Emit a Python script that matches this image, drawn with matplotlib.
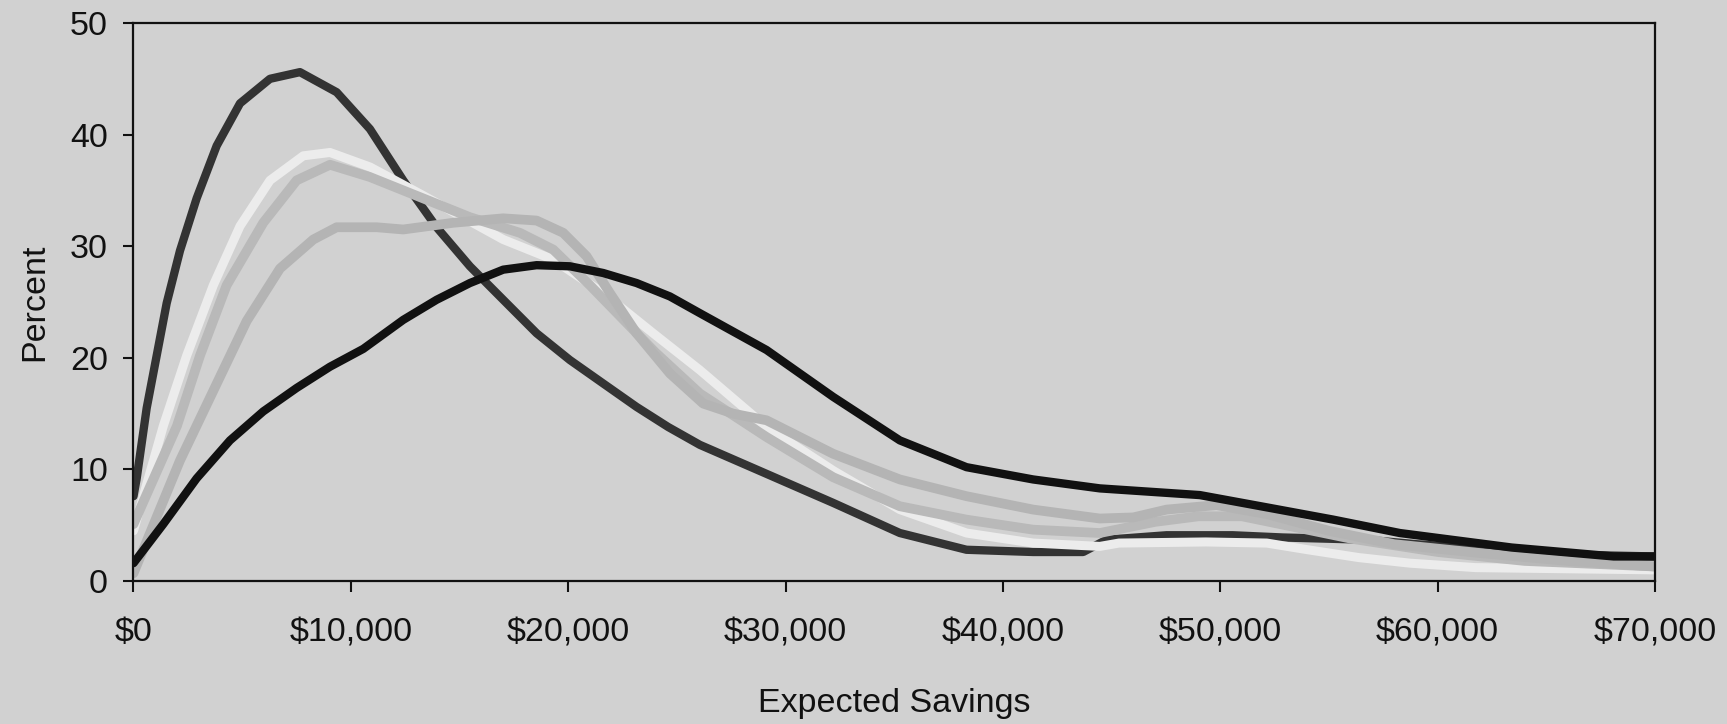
import matplotlib.pyplot as plt
from matplotlib.ticker import FuncFormatter

plt.rcParams['font.family'] = ['Liberation Sans', 'DejaVu Sans']

# (savings $, percent)
dark_x = [0, 147, 607, 1067, 1527, 2139, 2907, 3827, 4900, 6279, 7659, 9347, 10879, 12410,
          13946, 15478, 17010, 18546, 20078, 21610, 23146, 24600, 26058, 29126, 32190, 35258,
          38325, 41390, 43690, 44770, 47530, 50570, 52870, 56740, 59000, 62000, 65000, 70000]
dark_y = [7.6, 9.2, 15.5, 20.2, 24.9, 29.6, 34.3, 39.0, 42.8, 45.0, 45.6, 43.8, 40.5, 35.9,
          31.7, 28.2, 25.2, 22.2, 19.8, 17.7, 15.6, 13.8, 12.2, 9.6, 7.0, 4.3,
          2.8, 2.6, 2.6, 3.7, 4.1, 4.1, 3.9, 3.7, 3.3, 2.9, 2.4, 2.2]

white_x = [0, 1372, 2447, 3672, 4900, 6279, 7812, 9039, 10879, 13180, 17010, 19310, 21610,
           23910, 26058, 29126, 32190, 35258, 38325, 41390, 44458, 45340, 49340, 52140, 54030,
           56370, 58720, 61750, 70000]
white_y = [4.5, 13.9, 20.2, 26.5, 31.8, 35.9, 38.1, 38.4, 37.1, 34.7, 30.6, 28.8, 25.8,
           22.2, 18.9, 13.8, 9.9, 6.4, 4.3, 3.4, 3.1, 3.4, 3.5, 3.4, 2.8,
           2.1, 1.6, 1.2, 1.0]

grayd_x = [0, 2000, 3060, 4285, 5970, 7506, 9039, 10879, 13180, 15478, 17777, 19310, 21000,
           22500, 24000, 26058, 29126, 32190, 35258, 38325, 41390, 44458, 47000, 49000, 51000,
           53000, 56000, 60000, 64000, 70000]
grayd_y = [5.1, 13.9, 20.2, 26.5, 32.1, 35.9, 37.3, 36.2, 34.4, 32.6, 31.2, 29.7, 26.5,
           23.5, 20.5, 16.8, 12.9, 9.3, 6.7, 5.5, 4.6, 4.3, 5.3, 5.8, 5.8,
           5.0, 3.8, 2.6, 1.8, 1.3]

graye_x = [0, 2139, 3660, 5207, 6739, 8272, 9347, 11186, 12410, 14710, 17010, 18546, 19770,
           20846, 21918, 23146, 24678, 26210, 27590, 29126, 32190, 35258, 38325, 41390, 44458,
           46000, 47530, 49830, 52140, 55000, 58000, 62000, 66000, 70000]
graye_y = [0.7, 10.8, 17.0, 23.3, 28.0, 30.6, 31.7, 31.7, 31.5, 32.1, 32.5, 32.3, 31.2,
           29.1, 25.8, 22.2, 18.6, 15.9, 15.0, 14.4, 11.4, 9.1, 7.6, 6.4, 5.6,
           5.7, 6.4, 6.8, 6.0, 4.5, 3.3, 2.5, 1.8, 1.3]

black_x = [0, 1372, 2907, 4439, 5971, 7507, 9039, 10570, 12410, 13946, 15478, 17010, 18546,
           20078, 21610, 23146, 24678, 26058, 29126, 32190, 35258, 38325, 41390, 44458, 49060,
           52140, 55200, 58260, 63410, 68100, 70000]
black_y = [1.6, 5.1, 9.2, 12.6, 15.2, 17.3, 19.2, 20.8, 23.4, 25.2, 26.7, 27.9, 28.3,
           28.2, 27.6, 26.7, 25.5, 24.0, 20.7, 16.5, 12.6, 10.2, 9.1, 8.3, 7.7,
           6.6, 5.5, 4.3, 3.0, 2.2, 2.2]

bg = '#d1d1d1'
fig = plt.figure(figsize=(17.27, 7.24), dpi=100, facecolor=bg)
ax = fig.add_axes([0.0773, 0.1975, 0.881, 0.7707], facecolor=bg)

style = dict(solid_joinstyle='round', solid_capstyle='round')
ax.plot(dark_x, dark_y, color='#333333', lw=6, **style)
ax.plot(white_x, white_y, color='#ececec', lw=6.5, **style)
ax.plot(grayd_x, grayd_y, color='#b9b9b9', lw=7, **style)
ax.plot(graye_x, graye_y, color='#b4b4b4', lw=7, **style)
ax.plot(black_x, black_y, color='#111111', lw=6, **style)

ax.set_xlim(0, 70000)
ax.set_ylim(0, 50)
ax.set_xticks(range(0, 70001, 10000))
ax.set_yticks(range(0, 51, 10))
ax.xaxis.set_major_formatter(FuncFormatter(lambda v, p: '${:,.0f}'.format(v)))

for s in ax.spines.values():
    s.set_linewidth(1.6)
    s.set_color('#111111')

ax.tick_params(axis='x', length=8, width=1.5, pad=18, labelsize=24.5, colors='#111111')
ax.tick_params(axis='y', length=7.5, width=1.5, pad=11, labelsize=24.5, colors='#111111')

ax.set_xlabel('Expected Savings', fontsize=24.5, color='#111111', labelpad=29)
ax.set_ylabel('Percent', fontsize=24.5, color='#111111', labelpad=14)

fig.savefig('out.png', dpi=100, facecolor=bg)
